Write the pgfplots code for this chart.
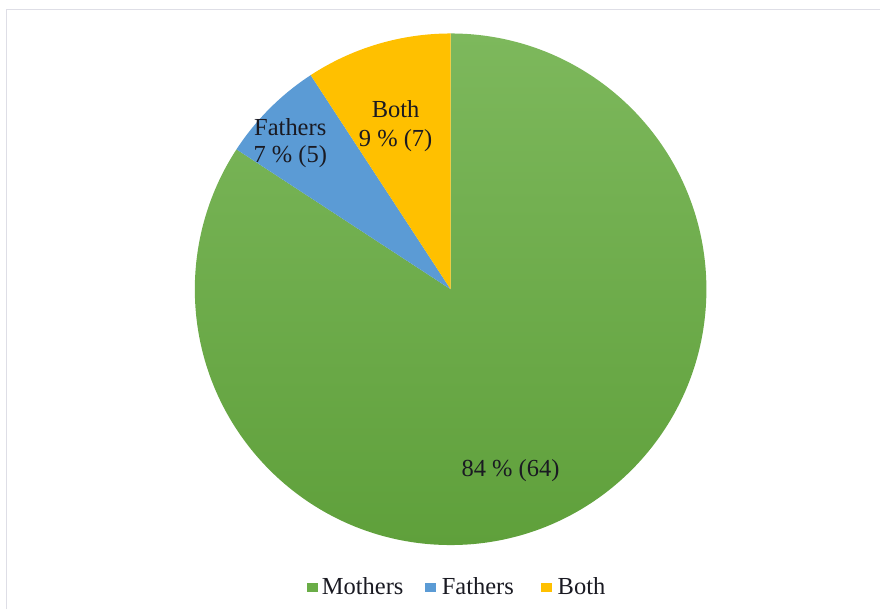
\documentclass[border=0pt]{standalone}
\usepackage{pgfplots}
\pgfplotsset{compat=1.18}
\usepackage{fontspec}
\setmainfont{Liberation Serif}

\definecolor{gtop}{HTML}{7DB85C}
\definecolor{gbot}{HTML}{5FA03B}
\definecolor{mothers}{HTML}{6AAD47}
\definecolor{fathers}{HTML}{5B9BD5}
\definecolor{both}{HTML}{FFC000}
\definecolor{framegray}{HTML}{DEDEE6}
\definecolor{labeltext}{HTML}{1A1A22}

% counts: Mothers, Fathers, Both
\def\nM{64}
\def\nF{5}
\def\nB{7}

\begin{document}
\begin{tikzpicture}
\begin{axis}[
	hide axis, scale only axis,
	width=881pt, height=610pt,
	xmin=0, xmax=881, ymin=0, ymax=610,
	clip=false]
\path (axis cs:0,0) rectangle (axis cs:881,610);
\draw[framegray, line width=1.5pt] (axis cs:6.5,0) -- (axis cs:6.5,600.5) -- (axis cs:881,600.5);

\pgfmathsetmacro\tot{\nM+\nF+\nB}
\pgfmathsetmacro\aM{90-360*(\nM/\tot)}
\pgfmathsetmacro\aF{\aM-360*(\nF/\tot)}
\pgfmathsetmacro\aB{\aF-360*(\nB/\tot)}

% slices, clockwise from 12 o'clock
\shade[top color=gtop, bottom color=gbot] (axis cs:451,320.5) -- ++(90:256pt)
	arc[start angle=90, end angle=\aM, radius=256pt] -- cycle;
\fill[fathers] (axis cs:451,320.5) -- ++(\aM:256pt)
	arc[start angle=\aM, end angle=\aF, radius=256pt] -- cycle;
\fill[both] (axis cs:451,320.5) -- ++(\aF:256pt)
	arc[start angle=\aF, end angle=\aB, radius=256pt] -- cycle;

% data labels
\node[align=center, text=labeltext, font=\fontsize{24.5}{27}\selectfont]
	at (axis cs:290.5,467) {Fathers\\7 \% (5)};
\node[align=center, text=labeltext, font=\fontsize{24.5}{29}\selectfont]
	at (axis cs:396,484) {Both\\9 \% (7)};
\node[text=labeltext, font=\fontsize{24.5}{27}\selectfont]
	at (axis cs:511,139) {84 \% (64)};

% legend
\fill[mothers] (axis cs:307,17) rectangle (axis cs:318,27);
\node[anchor=base west, inner sep=0pt, text=labeltext, font=\fontsize{24.5}{27}\selectfont]
	at (axis cs:322,15) {Mothers};
\fill[fathers] (axis cs:425,17) rectangle (axis cs:436,27);
\node[anchor=base west, inner sep=0pt, text=labeltext, font=\fontsize{24.5}{27}\selectfont]
	at (axis cs:442,15) {Fathers};
\fill[both] (axis cs:541,17) rectangle (axis cs:552,27);
\node[anchor=base west, inner sep=0pt, text=labeltext, font=\fontsize{24.5}{27}\selectfont]
	at (axis cs:558,15) {Both};
\end{axis}
\end{tikzpicture}
\end{document}
